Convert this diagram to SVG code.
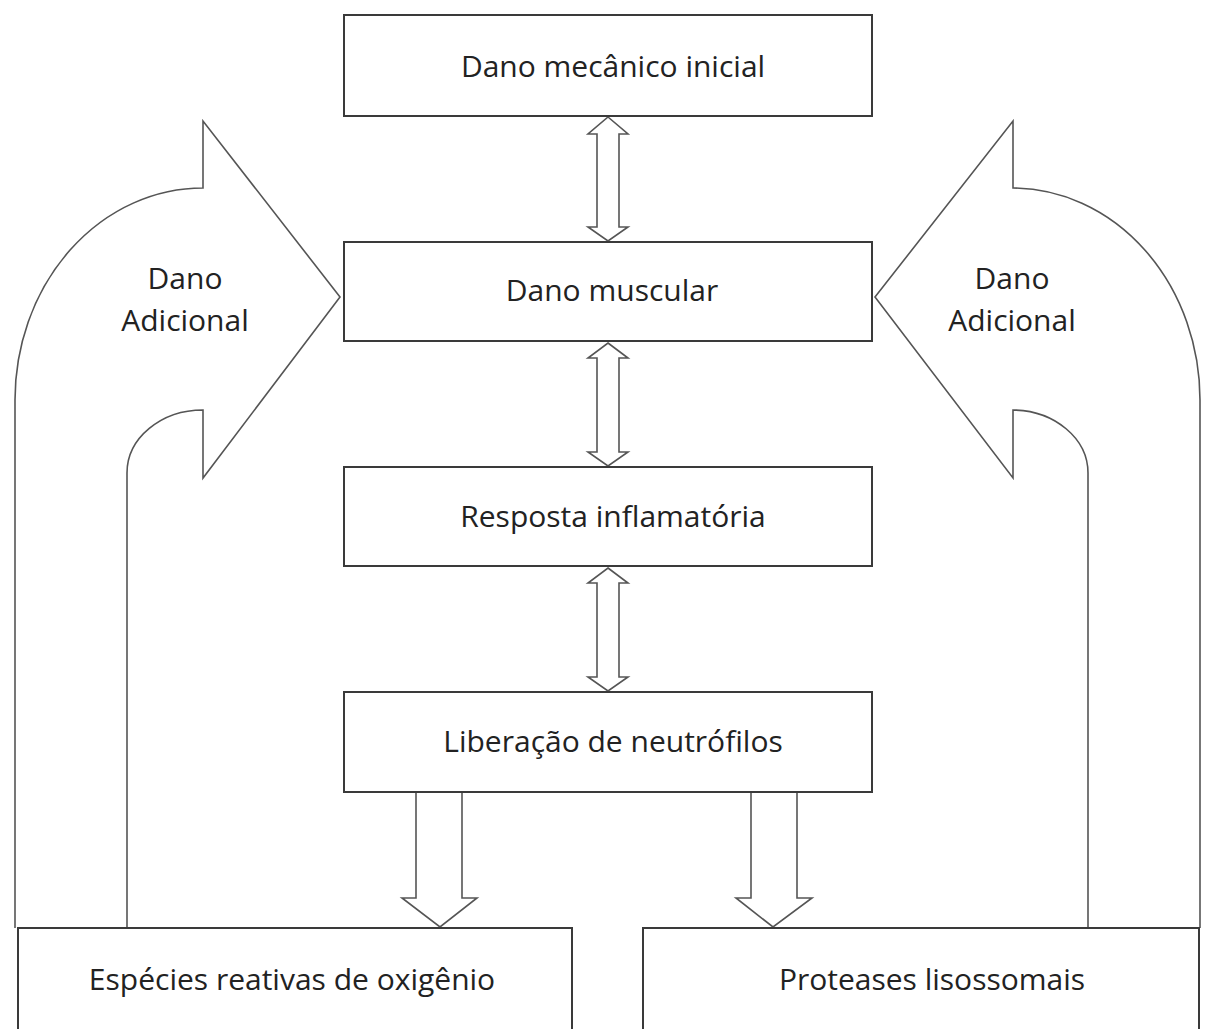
<svg xmlns="http://www.w3.org/2000/svg" width="1210" height="1029" viewBox="0 0 1210 1029">
<style>
.box{fill:#fff;stroke:#3a3a3a;stroke-width:2}
.arr{fill:#fff;stroke:#555;stroke-width:1.6;stroke-linejoin:miter}
.big{fill:#fff;stroke:#555;stroke-width:1.6}
text{font-family:"Open Sans","Liberation Sans",sans-serif;font-size:30px;fill:#222;text-anchor:middle}
</style>
<rect width="1210" height="1029" fill="#fff"/>
<g id="connectors">
<path class="big" d="M15,928 L15,400 A188,212 0 0 1 203,188 L203,121 L340,297 L203,478 L203,410 A76,63 0 0 0 127,473 L127,928"/>
<path class="big" d="M1200,928 L1200,400 A188,212 0 0 0 1013,188 L1013,121 L875,297 L1013,478 L1013,410 A76,63 0 0 1 1088,473 L1088,928"/>
<path class="arr" d="M608,117 L628,134 L619,134 L619,227 L628,227 L608,241 L588,227 L597,227 L597,134 L588,134 Z"/>
<path class="arr" d="M608,343 L628,358 L619,358 L619,452 L628,452 L608,466 L588,452 L597,452 L597,358 L588,358 Z"/>
<path class="arr" d="M608,568 L628,583 L619,583 L619,677 L628,677 L608,691 L588,677 L597,677 L597,583 L588,583 Z"/>
<path class="arr" d="M416,792 L416,898 L402,898 L440,927 L477,898 L462,898 L462,792"/>
<path class="arr" d="M751,792 L751,898 L736,898 L773,927 L812,898 L797,898 L797,792"/>
</g>
<g id="n1"><rect class="box" x="344" y="15" width="528" height="101"/><text x="613" y="77">Dano mecânico inicial</text></g>
<g id="n2"><rect class="box" x="344" y="242" width="528" height="99"/><text x="612" y="301">Dano muscular</text></g>
<g id="n3"><rect class="box" x="344" y="467" width="528" height="99"/><text x="613" y="527">Resposta inflamatória</text></g>
<g id="n4"><rect class="box" x="344" y="692" width="528" height="100"/><text x="613" y="752">Liberação de neutrófilos</text></g>
<g id="n5"><rect class="box" x="18" y="928" width="554" height="120"/><text x="292" y="990">Espécies reativas de oxigênio</text></g>
<g id="n6"><rect class="box" x="643" y="928" width="556" height="120"/><text x="932" y="990">Proteases lisossomais</text></g>
<g id="l1"><text x="185" y="289">Dano</text><text x="185" y="331">Adicional</text></g>
<g id="l2"><text x="1012" y="289">Dano</text><text x="1012" y="331">Adicional</text></g>
</svg>
